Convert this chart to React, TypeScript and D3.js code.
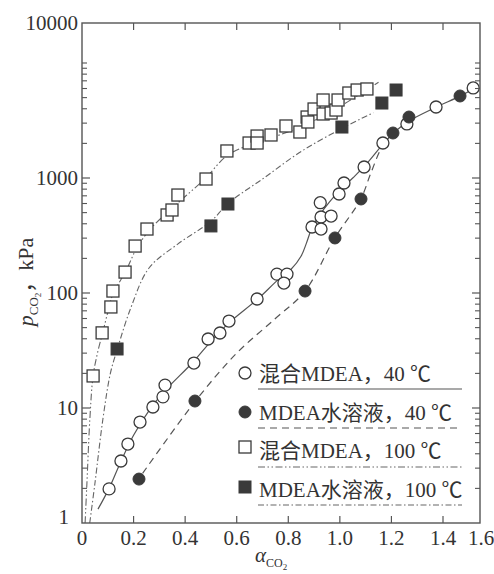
import React from "react";
import * as d3 from "d3";

// ---------- tick labels ----------
const xTickValues = [0, 0.2, 0.4, 0.6, 0.8, 1.0, 1.2, 1.4];
const xTickLabels = ["0", "0.2", "0.4", "0.6", "0.8", "1.0", "1.2", "1.4"];
const xEdgeLabel = "1.6";
const yMajorValues = [10, 100, 1000];
const yMajorLabels = ["10", "100", "1000"];
const yBottomLabel = "1";
const yEdgeLabel = "10000";

// ---------- series: 混合MDEA, 40 ℃ (open circles) ----------
const mixed40X = [0.105, 0.151, 0.178, 0.225, 0.275, 0.314, 0.322, 0.434, 0.489, 0.535, 0.57, 0.679, 0.756, 0.795, 0.783, 0.892, 0.927, 0.927, 0.966, 0.924, 0.997, 1.016, 1.094, 1.167, 1.26, 1.373, 1.517];
const mixed40Y = [1.98, 3.46, 4.86, 7.55, 10.2, 12.5, 15.8, 24.6, 39.8, 44.9, 57, 88.7, 146, 146, 122, 375, 458, 360, 467, 610, 726, 905, 1247, 2015, 2950, 4145, 6065];

// ---------- series: MDEA水溶液, 40 ℃ (filled circles) ----------
const aq40X = [0.221, 0.438, 0.865, 0.981, 1.082, 1.206, 1.268, 1.466];
const aq40Y = [2.41, 11.5, 104, 301, 657, 2462, 3390, 5165];

// ---------- series: 混合MDEA, 100 ℃ (open squares) ----------
const mixed100X = [0.043, 0.078, 0.112, 0.12, 0.167, 0.206, 0.252, 0.33, 0.349, 0.372, 0.481, 0.562, 0.648, 0.679, 0.679, 0.733, 0.791, 0.845, 0.873, 0.876, 0.9, 0.935, 0.935, 0.966, 0.985, 0.993, 1.035, 1.067, 1.105];
const mixed100Y = [19, 45, 75.6, 104, 152, 256, 360, 477, 527, 711, 980, 1718, 2015, 2317, 2015, 2366, 2833, 2512, 3390, 3069, 3981, 4767, 3603, 3673, 3900, 4767, 5483, 5823, 5944];

// ---------- series: MDEA水溶液, 100 ℃ (filled squares) ----------
const aq100X = [0.136, 0.5, 0.566, 1.008, 1.163, 1.218];
const aq100Y = [32.6, 383, 594, 2775, 4487, 5823];

// ---------- fitted curves ----------
const fitMixed40X = [0.062, 0.105, 0.15, 0.2, 0.26, 0.32, 0.43, 0.5, 0.57, 0.68, 0.76, 0.81, 0.85, 0.87, 0.89, 0.92, 0.96, 1.0, 1.05, 1.1, 1.17, 1.22, 1.27, 1.37, 1.47, 1.52];
const fitMixed40Y = [1.32, 2.0, 3.4, 5.8, 9.5, 14, 25, 38, 55, 88, 130, 160, 210, 270, 360, 470, 620, 780, 1000, 1300, 2000, 2600, 3150, 4100, 5200, 6000];
const fitAq40X = [0.235, 0.44, 0.6, 0.75, 0.865, 0.98, 1.08, 1.12, 1.16, 1.2];
const fitAq40Y = [2.7, 11.5, 30, 60, 104, 300, 650, 1100, 1800, 2400];
const fitMixed100X = [0.012, 0.019, 0.031, 0.043, 0.06, 0.08, 0.1, 0.12, 0.17, 0.21, 0.26, 0.33, 0.4, 0.48, 0.56, 0.65, 0.75, 0.85, 0.95, 1.05, 1.15];
const fitMixed100Y = [1, 2.2, 8.4, 19, 30, 45, 68, 98, 155, 240, 350, 500, 690, 1000, 1550, 1950, 2300, 2800, 3600, 4900, 6800];
const fitAq100X = [0.03, 0.05, 0.081, 0.11, 0.136, 0.19, 0.26, 0.37, 0.5, 0.566, 0.7, 0.85, 1.008, 1.13];
const fitAq100Y = [1, 2.2, 8, 20, 32, 75, 165, 265, 420, 600, 980, 1700, 2700, 3700];

// ---------- legend ----------
const legendLabels = ["混合MDEA，40 ℃", "MDEA水溶液，40 ℃", "混合MDEA，100 ℃", "MDEA水溶液，100 ℃"];

const W = 494;
const H = 574;
const L = 82;
const R = 480;
const T = 23;
const B = 523;

const INK = "#3a3a3a";
const LINE = "#555";
const FONT = "'Liberation Serif', 'Noto Sans CJK SC', serif";

const x = d3.scaleLinear().domain([0, 1.4]).range([L, 443]);
const y = d3.scaleLog().domain([1, 10000]).range([B, 63]);

const zip = (xs: number[], ys: number[]) => xs.map((v, i) => [v, ys[i]] as [number, number]);

const lineGen = d3
  .line<[number, number]>()
  .x((d) => x(d[0]))
  .y((d) => y(d[1]))
  .curve(d3.curveCatmullRom.alpha(0.5));

const STYLES = [
  { dash: "none", width: 1.2, color: LINE },
  { dash: "7,5", width: 1.2, color: LINE },
  { dash: "7,2.5,1.5,2.5,1.5,2.5", width: 1.1, color: "#666" },
  { dash: "6,2.5,1.5,2.5", width: 1.1, color: "#666" },
];

function Marker({ kind, cx, cy }: { kind: number; cx: number; cy: number }) {
  const r = 6;
  if (kind === 0) return <circle cx={cx} cy={cy} r={r} fill="#fff" stroke={INK} strokeWidth={1.3} />;
  if (kind === 1) return <circle cx={cx} cy={cy} r={r} fill={INK} stroke={INK} strokeWidth={1} />;
  if (kind === 2)
    return <rect x={cx - r} y={cy - r} width={2 * r} height={2 * r} fill="#fff" stroke={INK} strokeWidth={1.3} />;
  return <rect x={cx - r} y={cy - r} width={2 * r} height={2 * r} fill={INK} stroke={INK} strokeWidth={1} />;
}

export default function App() {
  const yMinor: number[] = [];
  for (let e = 0; e < 4; e++) {
    for (let k = 2; k <= 10; k++) {
      const v = k * Math.pow(10, e);
      if (!yMajorValues.includes(v)) yMinor.push(v);
    }
  }

  const series = [
    zip(mixed40X, mixed40Y),
    zip(aq40X, aq40Y),
    zip(mixed100X, mixed100Y),
    zip(aq100X, aq100Y),
  ];
  const fits = [
    zip(fitMixed40X, fitMixed40Y),
    zip(fitAq40X, fitAq40Y),
    zip(fitMixed100X, fitMixed100Y),
    zip(fitAq100X, fitAq100Y),
  ];

  const legendMarkerY = [373, 412, 447, 487];
  const legendTextY = [381, 420, 458, 497];
  const legendLineY = [389, 428, 467, 505];

  return (
    <svg
      width={W}
      height={H}
      viewBox={`0 0 ${W} ${H}`}
      style={{ position: "absolute", left: 0, top: 0, background: "#fff" }}
      fontFamily={FONT}
    >
      <defs>
        <clipPath id="plot">
          <rect x={L} y={T} width={R - L} height={B - T} />
        </clipPath>
      </defs>

      {/* fitted curves */}
      <g clipPath="url(#plot)">
        {fits.map((pts, i) => (
          <path
            key={i}
            d={lineGen(pts) || ""}
            fill="none"
            stroke={STYLES[i].color}
            strokeWidth={STYLES[i].width}
            strokeDasharray={STYLES[i].dash}
          />
        ))}
      </g>

      {/* markers */}
      {series.map((pts, i) => (
        <g key={i}>
          {pts.map((p, j) => (
            <Marker key={j} kind={i} cx={x(p[0])} cy={y(p[1])} />
          ))}
        </g>
      ))}

      {/* frame */}
      <rect x={L} y={T} width={R - L} height={B - T} fill="none" stroke="#555" strokeWidth={1.4} />

      {/* x ticks */}
      {xTickValues.map((v, i) => (
        <g key={i}>
          {i > 0 && <line x1={x(v)} x2={x(v)} y1={B} y2={B - 7} stroke="#555" strokeWidth={1.2} />}
          {i > 0 && <line x1={x(v)} x2={x(v)} y1={T} y2={T + 7} stroke="#555" strokeWidth={1.2} />}
          <text x={x(v)} y={545} textAnchor="middle" fontSize={21} fill="#333">
            {xTickLabels[i]}
          </text>
        </g>
      ))}
      <text x={R + 1} y={545} textAnchor="middle" fontSize={21} fill="#333">
        {xEdgeLabel}
      </text>

      {/* y ticks */}
      {yMinor.map((v, i) => (
        <g key={"m" + i}>
          <line x1={L} x2={L + 5} y1={y(v)} y2={y(v)} stroke="#555" strokeWidth={1.1} />
          <line x1={R} x2={R - 5} y1={y(v)} y2={y(v)} stroke="#555" strokeWidth={1.1} />
        </g>
      ))}
      {yMajorValues.map((v, i) => (
        <g key={"M" + i}>
          <line x1={L} x2={L + 8} y1={y(v)} y2={y(v)} stroke="#555" strokeWidth={1.2} />
          <line x1={R} x2={R - 8} y1={y(v)} y2={y(v)} stroke="#555" strokeWidth={1.2} />
          <text x={78} y={y(v)} dy="0.35em" textAnchor="end" fontSize={21} fill="#333">
            {yMajorLabels[i]}
          </text>
        </g>
      ))}
      <text x={69} y={524} textAnchor="end" fontSize={21} fill="#333">
        {yBottomLabel}
      </text>
      <text x={78} y={T} dy="0.35em" textAnchor="end" fontSize={21} fill="#333">
        {yEdgeLabel}
      </text>

      {/* y axis title */}
      <text transform="translate(33,282) rotate(-90)" textAnchor="middle" fontSize={22} fill="#333">
        <tspan fontStyle="italic">p</tspan>
        <tspan fontSize={13} dy={5}>CO</tspan>
        <tspan fontSize={9} dy={3}>2</tspan>
        <tspan dy={-8}>，kPa</tspan>
      </text>

      {/* x axis title */}
      <text x={255} y={562} fontSize={21} fill="#333">
        <tspan fontStyle="italic">α</tspan>
        <tspan fontSize={12} dy={5}>CO</tspan>
        <tspan fontSize={9} dy={3}>2</tspan>
      </text>

      {/* legend */}
      {legendLabels.map((lab, i) => (
        <g key={"lg" + i}>
          <Marker kind={i} cx={245} cy={legendMarkerY[i]} />
          <text x={259} y={legendTextY[i]} fontSize={21} fill="#333">
            {lab}
          </text>
          <line
            x1={258}
            x2={462}
            y1={legendLineY[i]}
            y2={legendLineY[i]}
            stroke={STYLES[i].color}
            strokeWidth={STYLES[i].width}
            strokeDasharray={STYLES[i].dash}
          />
        </g>
      ))}
    </svg>
  );
}
